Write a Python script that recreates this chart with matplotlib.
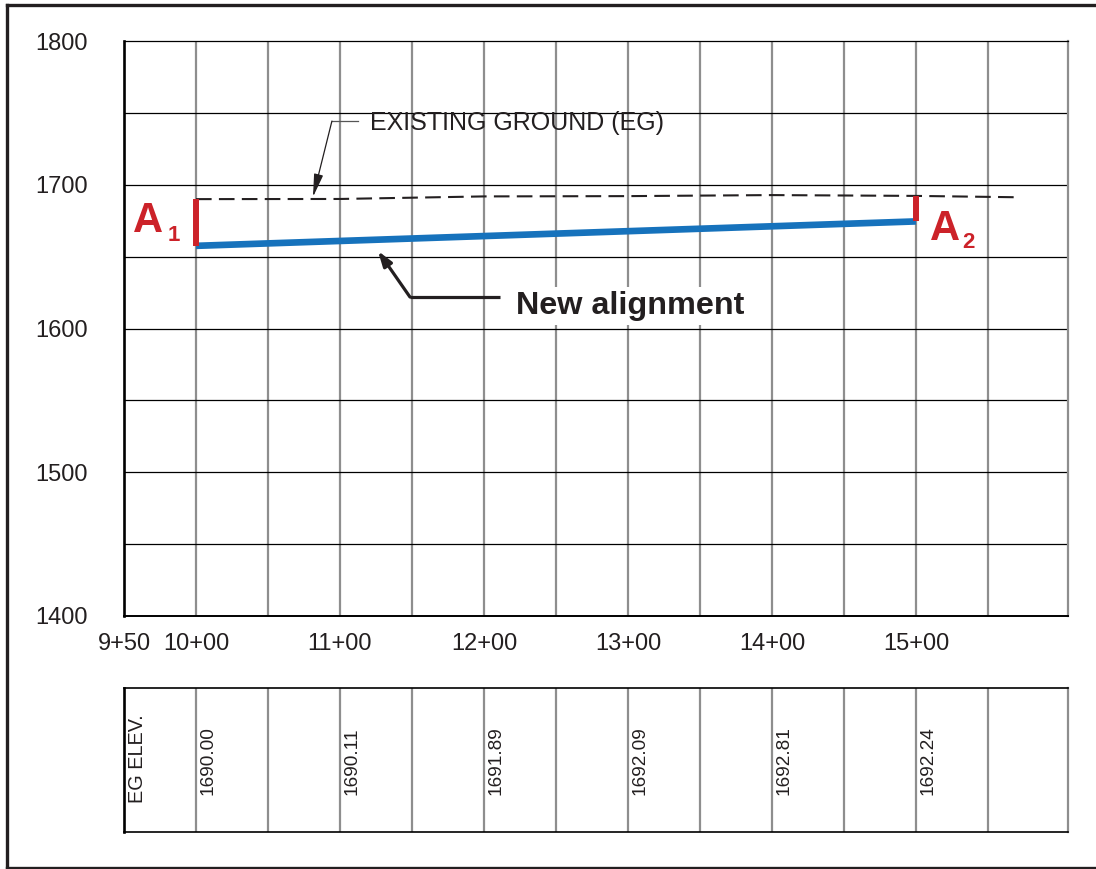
"""Vertical profile sheet: existing ground vs. new alignment with EG elevation strip."""

import matplotlib
matplotlib.use("Agg")
import matplotlib.pyplot as plt
from matplotlib.lines import Line2D
import numpy as np

plt.rcParams["font.family"] = ["Liberation Sans", "DejaVu Sans"]

# ---------------------------------------------------------------------------
# Data
# ---------------------------------------------------------------------------
X_MIN, X_MAX = 950, 1605.6
Y_MIN, Y_MAX = 1400, 1800

tick_stations = [950, 1000, 1100, 1200, 1300, 1400, 1500]
tick_labels = ["9+50", "10+00", "11+00", "12+00", "13+00", "14+00", "15+00"]
elev_ticks = [1400, 1500, 1600, 1700, 1800]

grid_stations = np.arange(1000, 1600, 50)
grid_elevs = np.arange(1450, 1800, 50)

eg_stations = [1000, 1100, 1200, 1300, 1400, 1500, 1570]
eg_elevs = [1690.00, 1690.11, 1691.89, 1692.09, 1692.81, 1692.24, 1691.3]

table_stations = [1000, 1100, 1200, 1300, 1400, 1500]
table_values = ["1690.00", "1690.11", "1691.89", "1692.09", "1692.81", "1692.24"]

align_stations = [1000, 1500]
align_elevs = [1657.5, 1674.5]

RED = "#cc2229"
BLUE = "#1672bc"
GRID_GRAY = "#8e8e8e"

# ---------------------------------------------------------------------------
# Figure layout (pixel geometry of the sheet)
# ---------------------------------------------------------------------------
W, H = 1096, 869
fig = plt.figure(figsize=(W / 100, H / 100), dpi=100)

left, right = 124 / W, 1068 / W
ax = fig.add_axes([left, 1 - 616 / H, right - left, 575 / H])
tax = fig.add_axes([left, 1 - 832 / H, right - left, 144 / H])

# ---------------------------------------------------------------------------
# Profile axes
# ---------------------------------------------------------------------------
ax.set_xlim(X_MIN, X_MAX)
ax.set_ylim(Y_MIN, Y_MAX)
ax.vlines(grid_stations, Y_MIN, Y_MAX, color=GRID_GRAY, lw=1.6, zorder=0)
ax.hlines(grid_elevs, X_MIN, X_MAX, color="black", lw=0.9, zorder=0)

ax.set_xticks(tick_stations)
ax.set_xticklabels(tick_labels)
ax.set_yticks(elev_ticks)
ax.tick_params(axis="x", length=0, pad=12, labelsize=17, colors="#231f20")
ax.tick_params(axis="y", length=0, pad=26, labelsize=17, colors="#231f20")

ax.spines["left"].set_linewidth(1.9)
ax.spines["bottom"].set_linewidth(1.4)
ax.spines["top"].set_linewidth(0.9)
ax.spines["right"].set_color(GRID_GRAY)
ax.spines["right"].set_linewidth(1.6)

# existing ground
ax.plot(eg_stations, eg_elevs, color="#231f20", lw=1.5, dashes=(7.5, 3.5), zorder=3)

# new alignment
ax.plot(align_stations, align_elevs, color=BLUE, lw=4.8, solid_capstyle="butt", zorder=4)

# A1 / A2 offsets
ax.plot([align_stations[0], align_stations[0]], [eg_elevs[0], align_elevs[0]],
        color=RED, lw=4.3, solid_capstyle="butt", zorder=5)
ax.plot([align_stations[1], align_stations[1]], [eg_elevs[5], align_elevs[1]],
        color=RED, lw=4.3, solid_capstyle="butt", zorder=5)
ax.text(956.5, 1667.1, "A", color=RED, fontsize=30, fontweight="bold", va="baseline")
ax.text(980.5, 1660.9, "1", color=RED, fontsize=16, fontweight="bold", va="baseline")
ax.text(1510.0, 1661.6, "A", color=RED, fontsize=30, fontweight="bold", va="baseline")
ax.text(1532.5, 1656.0, "2", color=RED, fontsize=16, fontweight="bold", va="baseline")

# EG callout
ax.text(1120.8, 1743.0, "EXISTING GROUND (EG)", fontsize=18, color="#231f20",
        va="center", ha="left")
ax.plot([1112.5, 1094.4], [1744.3, 1744.3], color="#555555", lw=0.9)
ax.annotate("", xy=(1081.25, 1691.5), xytext=(1094.4, 1744.3),
            arrowprops=dict(arrowstyle="-|>,head_length=1.4,head_width=0.28",
                            color="#231f20", lw=0.9, shrinkA=0, shrinkB=0))

# New alignment callout
ax.text(1222.2, 1610.1, "New alignment", fontsize=23.3, fontweight="bold",
        color="#231f20", va="baseline", ha="left",
        bbox=dict(facecolor="white", edgecolor="none", pad=3), zorder=6)
ax.plot([1211.1, 1148.6], [1621.9, 1621.9], color="#231f20", lw=2.3,
        solid_capstyle="butt")
ax.annotate("", xy=(1126.4, 1653.9), xytext=(1148.6, 1621.9),
            arrowprops=dict(arrowstyle="-|>,head_length=0.9,head_width=0.3",
                            color="#231f20", lw=2.3, shrinkA=0, shrinkB=0))

# ---------------------------------------------------------------------------
# EG elevation strip
# ---------------------------------------------------------------------------
tax.set_xlim(X_MIN, X_MAX)
tax.set_ylim(0, 1)
tax.vlines(grid_stations, 0, 1, color=GRID_GRAY, lw=1.6, zorder=0)
tax.set_xticks([])
tax.set_yticks([])
tax.spines["left"].set_linewidth(1.9)
tax.spines["top"].set_linewidth(1.2)
tax.spines["bottom"].set_linewidth(1.2)
tax.spines["right"].set_color(GRID_GRAY)
tax.spines["right"].set_linewidth(1.6)

tax.text(959.7, 0.2, "EG ELEV.", rotation=90, fontsize=14.3, color="#231f20",
         ha="center", va="bottom")
for st, val in zip(table_stations, table_values):
    tax.text(st + 8.3, 0.257, val, rotation=90, fontsize=13.7, color="#231f20",
             ha="center", va="bottom")

# ---------------------------------------------------------------------------
# Sheet border
# ---------------------------------------------------------------------------
bx0, by0, by1 = 7 / W, 1 - 5 / H, 1 - 868 / H
for xs, ys in [([bx0, bx0], [by0, by1]),
               ([bx0, 1.01], [by0, by0]),
               ([bx0, 1.01], [by1, by1])]:
    fig.add_artist(Line2D(xs, ys, color="#231f20", lw=2.4,
                          transform=fig.transFigure, solid_capstyle="projecting"))

fig.savefig("out.png", dpi=100)
